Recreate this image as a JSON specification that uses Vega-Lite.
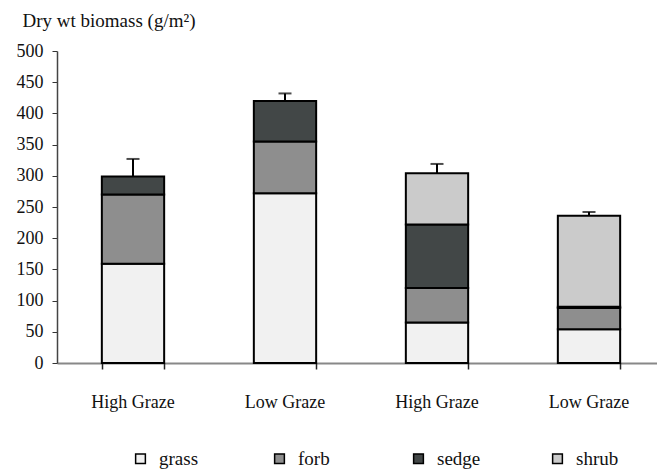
{
  "$schema": "https://vega.github.io/schema/vega-lite/v6.json",
  "width": 600,
  "height": 312,
  "autosize": {"type": "none"},
  "padding": {"left": 57, "top": 51, "right": 0, "bottom": 110},
  "background": "white",
  "config": {
    "view": {"stroke": null},
    "font": "Liberation Serif",
    "axis": {"labelFont": "Liberation Serif", "titleFont": "Liberation Serif", "grid": false, "labelColor": "#111", "tickColor": "#333"},
    "axisY": {"tickCount": 10, "labelOverlap": false, "labelFontSize": 18, "labelFont": "Liberation Serif"},
    "legend": {"labelFont": "Liberation Serif"}
  },
  "datasets": {
    "parts": [
      {"plot": "High Graze#1", "type": "grass", "k": 1, "biomass": 159},
      {"plot": "High Graze#1", "type": "forb", "k": 2, "biomass": 111},
      {"plot": "High Graze#1", "type": "sedge", "k": 3, "biomass": 29},
      {"plot": "Low Graze#2", "type": "grass", "k": 1, "biomass": 272},
      {"plot": "Low Graze#2", "type": "forb", "k": 2, "biomass": 83},
      {"plot": "Low Graze#2", "type": "sedge", "k": 3, "biomass": 65},
      {"plot": "High Graze#3", "type": "grass", "k": 1, "biomass": 65},
      {"plot": "High Graze#3", "type": "forb", "k": 2, "biomass": 55},
      {"plot": "High Graze#3", "type": "sedge", "k": 3, "biomass": 102},
      {"plot": "High Graze#3", "type": "shrub", "k": 4, "biomass": 82},
      {"plot": "Low Graze#4", "type": "grass", "k": 1, "biomass": 54},
      {"plot": "Low Graze#4", "type": "forb", "k": 2, "biomass": 34},
      {"plot": "Low Graze#4", "type": "sedge", "k": 3, "biomass": 2},
      {"plot": "Low Graze#4", "type": "shrub", "k": 4, "biomass": 146}
    ],
    "totals": [
      {"plot": "High Graze#1", "total": 299, "upper": 327},
      {"plot": "Low Graze#2", "total": 420, "upper": 432},
      {"plot": "High Graze#3", "total": 304, "upper": 319},
      {"plot": "Low Graze#4", "total": 236, "upper": 242}
    ]
  },
  "resolve": {"axis": {"x": "independent"}},
  "layer": [
    {
      "data": {"name": "parts"},
      "mark": {"type": "bar", "stroke": "black", "strokeWidth": 2},
      "encoding": {
        "x": {
          "field": "plot", "type": "nominal", "sort": null,
          "scale": {"range": [0, 608], "paddingInner": 0.59, "paddingOuter": 0.295},
          "axis": {
            "orient": "bottom",
            "title": null, "labelAngle": 0, "labelFont": "Liberation Serif", "labelFontSize": 18, "labelPadding": 30,
            "labelExpr": "split(datum.value, '#')[0]", "ticks": false,
            "domainColor": "#888", "domainWidth": 2
          }
        },
        "y": {
          "field": "biomass", "type": "quantitative", "stack": "zero",
          "scale": {"domain": [0, 500], "nice": false},
          "axis": {
            "tickCount": 10,
            "labelOverlap": false, "labelFont": "Liberation Serif",
            "labelFontSize": 18, "labelPadding": 9, "tickSize": 5,
            "domainColor": "#444", "domainWidth": 1.5,
            "title": "Dry wt biomass (g/m²)", "titleFont": "Liberation Serif", "titleAngle": 0, "titleAlign": "left",
            "titleBaseline": "middle", "titleX": -35, "titleY": -31,
            "titleFontSize": 19, "titleFontWeight": "normal", "titleColor": "#111"
          }
        },
        "color": {
          "field": "type", "type": "nominal",
          "scale": {"domain": ["grass", "forb", "sedge", "shrub"], "range": ["#f1f1f1", "#8e8e8e", "#424747", "#cbcbcb"]},
          "legend": {
            "title": null, "orient": "none", "direction": "horizontal",
            "legendX": 74, "legendY": 398, "padding": 0,
            "gridAlign": "all", "columnPadding": 67,
            "symbolType": "square", "symbolSize": 95, "symbolStrokeColor": "black", "symbolStrokeWidth": 1.5,
            "labelFont": "Liberation Serif",
            "labelFontSize": 19, "labelOffset": 9, "labelColor": "#111", "labelLimit": 200
          }
        },
        "order": {"field": "k", "type": "quantitative"}
      }
    },
    {
      "data": {"name": "totals"},
      "mark": {"type": "rule", "color": "black", "strokeWidth": 2},
      "encoding": {
        "x": {
          "field": "plot", "type": "nominal", "sort": null,
          "axis": {"orient": "bottom", "title": null, "labels": false, "domain": false, "tickBand": "extent", "tickSize": 6, "tickColor": "#222", "tickWidth": 1.5}
        },
        "y": {
          "field": "total", "type": "quantitative",
          "axis": {
            "tickCount": 10,
            "labelOverlap": false, "labelFont": "Liberation Serif",
            "labelFontSize": 18, "labelPadding": 9, "tickSize": 5,
            "domainColor": "#444", "domainWidth": 1.5,
            "title": "Dry wt biomass (g/m²)", "titleFont": "Liberation Serif", "titleAngle": 0, "titleAlign": "left",
            "titleBaseline": "middle", "titleX": -35, "titleY": -31,
            "titleFontSize": 19, "titleFontWeight": "normal", "titleColor": "#111"
          }
        },
        "y2": {"field": "upper"}
      }
    },
    {
      "data": {"name": "totals"},
      "mark": {"type": "tick", "color": "black", "thickness": 2, "size": 13},
      "encoding": {
        "x": {"field": "plot", "type": "nominal", "sort": null, "axis": null},
        "y": {
          "field": "upper", "type": "quantitative",
          "axis": {
            "tickCount": 10,
            "labelOverlap": false, "labelFont": "Liberation Serif",
            "labelFontSize": 18, "labelPadding": 9, "tickSize": 5,
            "domainColor": "#444", "domainWidth": 1.5,
            "title": "Dry wt biomass (g/m²)", "titleFont": "Liberation Serif", "titleAngle": 0, "titleAlign": "left",
            "titleBaseline": "middle", "titleX": -35, "titleY": -31,
            "titleFontSize": 19, "titleFontWeight": "normal", "titleColor": "#111"
          }
        }
      }
    }
  ]
}
